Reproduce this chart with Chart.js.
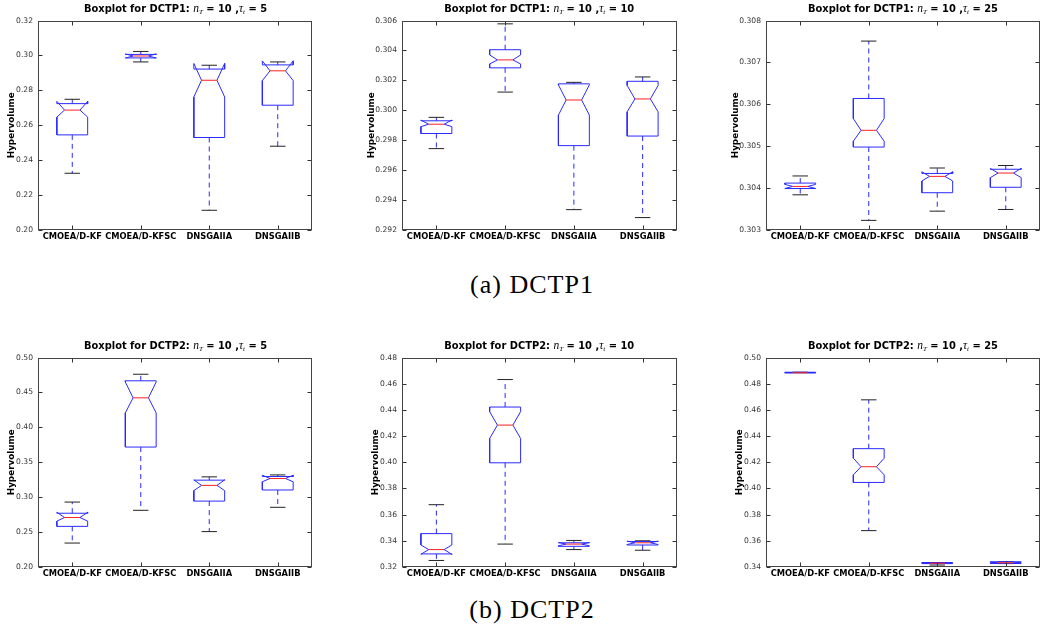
<!DOCTYPE html>
<html>
<head>
<meta charset="utf-8">
<script src="https://cdn.jsdelivr.net/npm/chart.js@4.4.1/dist/chart.umd.min.js"></script>
<style>
  html, body { margin: 0; padding: 0; background: #fff; }
  body { width: 1045px; height: 639px; position: relative; overflow: hidden; font-family: "DejaVu Sans", sans-serif; }
  canvas { position: absolute; }
  .ttl { position: absolute; white-space: nowrap; font-weight: bold; font-size: 9.9px; color: #000; transform: translate(-50%, -50%); }
  .ttl i { font-family: "Liberation Serif", serif; font-weight: normal; font-size: 11.5px; }
  .ttl sub { font-size: 7px; vertical-align: -2px; line-height: 0; }
  .cap { position: absolute; white-space: nowrap; font-family: "Liberation Serif", serif; font-size: 26px; letter-spacing: 1px; color: #000; transform: translate(-50%, -50%); }
</style>
</head>
<body>
<div class="cap" style="left:532px; top:285px">(a) DCTP1</div>
<div class="cap" style="left:532px; top:610px">(b) DCTP2</div>
<script>
const categories = ['CMOEA/D-KF', 'CMOEA/D-KFSC', 'DNSGAIIA', 'DNSGAIIB'];

// DCTP1, tau_t = 5
const a5Lo  = [0.2325, 0.2963, 0.2113, 0.2480];
const a5Q1  = [0.2545, 0.2986, 0.2530, 0.2715];
const a5NLo = [0.2647, 0.2985, 0.2762, 0.2856];
const a5Med = [0.2687, 0.2997, 0.2858, 0.2912];
const a5NHi = [0.2737, 0.3009, 0.2954, 0.2969];
const a5Q3  = [0.2724, 0.3006, 0.2922, 0.2946];
const a5Hi  = [0.2749, 0.3023, 0.2944, 0.2963];
const a5Ticks = [0.20, 0.22, 0.24, 0.26, 0.28, 0.30, 0.32];

// DCTP1, tau_t = 10
const a10Lo  = [0.29744, 0.30122, 0.29336, 0.29283];
const a10Q1  = [0.29845, 0.30284, 0.29764, 0.29828];
const a10NLo = [0.29891, 0.30310, 0.29968, 0.29990];
const a10Med = [0.29907, 0.30337, 0.30069, 0.30076];
const a10NHi = [0.29935, 0.30370, 0.30170, 0.30166];
const a10Q3  = [0.29930, 0.30405, 0.30177, 0.30194];
const a10Hi  = [0.29953, 0.30578, 0.30187, 0.30223];
const a10Ticks = [0.292, 0.294, 0.296, 0.298, 0.300, 0.302, 0.304, 0.306];

// DCTP1, tau_t = 25
const a25Lo  = [0.30384, 0.30323, 0.30345, 0.30349];
const a25Q1  = [0.30399, 0.30498, 0.30389, 0.30402];
const a25NLo = [0.30399, 0.30512, 0.30417, 0.30425];
const a25Med = [0.30404, 0.30538, 0.30428, 0.30436];
const a25NHi = [0.30409, 0.30566, 0.30439, 0.30447];
const a25Q3  = [0.30412, 0.30614, 0.30435, 0.30445];
const a25Hi  = [0.30429, 0.30751, 0.30448, 0.30454];
const a25Ticks = [0.303, 0.304, 0.305, 0.306, 0.307, 0.308];

// DCTP2, tau_t = 5
const b5Lo  = [0.2343, 0.2812, 0.2507, 0.2855];
const b5Q1  = [0.2582, 0.3718, 0.2944, 0.3103];
const b5NLo = [0.2657, 0.4207, 0.3094, 0.3221];
const b5Med = [0.2709, 0.4423, 0.3169, 0.3268];
const b5NHi = [0.2784, 0.4650, 0.3248, 0.3315];
const b5Q3  = [0.2770, 0.4667, 0.3244, 0.3296];
const b5Hi  = [0.2930, 0.4761, 0.3291, 0.3319];
const b5Ticks = [0.20, 0.25, 0.30, 0.35, 0.40, 0.45, 0.50];

// DCTP2, tau_t = 10
const b10Lo  = [0.3250, 0.3375, 0.3333, 0.3328];
const b10Q1  = [0.3300, 0.3996, 0.3358, 0.3368];
const b10NLo = [0.3297, 0.4182, 0.3362, 0.3372];
const b10Med = [0.3333, 0.4284, 0.3375, 0.3385];
const b10NHi = [0.3368, 0.4387, 0.3387, 0.3398];
const b10Q3  = [0.3455, 0.4422, 0.3385, 0.3395];
const b10Hi  = [0.3676, 0.4632, 0.3403, 0.3400];
const b10Ticks = [0.32, 0.34, 0.36, 0.38, 0.40, 0.42, 0.44, 0.46, 0.48];

// DCTP2, tau_t = 25
const b25Lo  = [0.4884, 0.3678, 0.3415, 0.3426];
const b25Q1  = [0.4884, 0.4046, 0.3426, 0.3427];
const b25NLo = [0.4883, 0.4104, 0.3427, 0.3428];
const b25Med = [0.4884, 0.4166, 0.3429, 0.3432];
const b25NHi = [0.4886, 0.4231, 0.3432, 0.3436];
const b25Q3  = [0.4888, 0.4304, 0.3434, 0.3440];
const b25Hi  = [0.4888, 0.4677, 0.3434, 0.3440];
const b25Ticks = [0.34, 0.36, 0.38, 0.40, 0.42, 0.44, 0.46, 0.48, 0.50];

// box geometry in x-axis units (categories sit at 1..4)
const BOX_HALF = 0.225;
const NOTCH_HALF = 0.1125;

const panels = [
  { prob: 'DCTP1', tau: 5,  stats: [a5Lo, a5Q1, a5NLo, a5Med, a5NHi, a5Q3, a5Hi],  ticks: a5Ticks,  dp: 2, left: 38.3,  top: 17.3,  w: 274.4, h: 212.7, labelGap: 26.6 },
  { prob: 'DCTP1', tau: 10, stats: [a10Lo, a10Q1, a10NLo, a10Med, a10NHi, a10Q3, a10Hi], ticks: a10Ticks, dp: 3, left: 401.7, top: 17.3,  w: 275.0, h: 212.7, labelGap: 30 },
  { prob: 'DCTP1', tau: 25, stats: [a25Lo, a25Q1, a25NLo, a25Med, a25NHi, a25Q3, a25Hi], ticks: a25Ticks, dp: 3, left: 766.0, top: 17.3,  w: 274.0, h: 212.7, labelGap: 30 },
  { prob: 'DCTP2', tau: 5,  stats: [b5Lo, b5Q1, b5NLo, b5Med, b5NHi, b5Q3, b5Hi],  ticks: b5Ticks,  dp: 2, left: 38.3,  top: 354.3, w: 274.4, h: 213.0, labelGap: 26.3 },
  { prob: 'DCTP2', tau: 10, stats: [b10Lo, b10Q1, b10NLo, b10Med, b10NHi, b10Q3, b10Hi], ticks: b10Ticks, dp: 2, left: 401.7, top: 354.3, w: 275.0, h: 213.0, labelGap: 26 },
  { prob: 'DCTP2', tau: 25, stats: [b25Lo, b25Q1, b25NLo, b25Med, b25NHi, b25Q3, b25Hi], ticks: b25Ticks, dp: 2, left: 766.0, top: 354.3, w: 274.0, h: 213.0, labelGap: 26 }
];

const Y_AXIS_W = 50, X_AXIS_H = 18, PAD_TOP = 6, PAD_RIGHT = 6;
const BLUE = '#2a2aff', RED = '#ff2020', CAP = '#222';

function seg(points, color, dash) {
  return {
    data: points.map(p => ({ x: p[0], y: p[1] })),
    showLine: true,
    borderColor: color,
    borderWidth: 1,
    borderDash: dash || [],
    pointRadius: 0,
    fill: false,
    tension: 0
  };
}

// notched boxplot made of plain line datasets; first dataset is drawn on top
function boxDatasets(stats) {
  const [lo, q1, nlo, med, nhi, q3, hi] = stats;
  const medians = [], caps = [], outlines = [], whiskers = [];
  categories.forEach((c, i) => {
    const x = i + 1, l = x - BOX_HALF, r = x + BOX_HALF;
    medians.push(seg([[x - NOTCH_HALF, med[i]], [x + NOTCH_HALF, med[i]]], RED));
    outlines.push(seg([
      [l, q1[i]], [r, q1[i]], [r, nlo[i]], [x + NOTCH_HALF, med[i]], [r, nhi[i]], [r, q3[i]],
      [l, q3[i]], [l, nhi[i]], [x - NOTCH_HALF, med[i]], [l, nlo[i]], [l, q1[i]]
    ], BLUE));
    caps.push(seg([[x - NOTCH_HALF, lo[i]], [x + NOTCH_HALF, lo[i]]], CAP));
    caps.push(seg([[x - NOTCH_HALF, hi[i]], [x + NOTCH_HALF, hi[i]]], CAP));
    whiskers.push(seg([[x, q1[i]], [x, lo[i]]], BLUE, [5, 4]));
    whiskers.push(seg([[x, q3[i]], [x, hi[i]]], BLUE, [5, 4]));
  });
  return [...medians, ...outlines, ...caps, ...whiskers];
}

// axes frame with inward tick marks on all four sides
const framePlugin = {
  id: 'frame',
  afterDraw(chart) {
    const { ctx, chartArea: a, scales: { x, y } } = chart;
    const L = Math.round(a.left) + 0.5, R = Math.round(a.right) - 0.5;
    const T = Math.round(a.top) + 0.5, B = Math.round(a.bottom) - 0.5;
    ctx.save();
    ctx.strokeStyle = '#333';
    ctx.lineWidth = 1;
    ctx.beginPath();
    y.ticks.forEach(t => {
      const py = Math.round(y.getPixelForValue(t.value)) + 0.5;
      ctx.moveTo(L, py); ctx.lineTo(L + 4, py);
      ctx.moveTo(R, py); ctx.lineTo(R - 4, py);
    });
    x.ticks.forEach(t => {
      const px = Math.round(x.getPixelForValue(t.value)) + 0.5;
      ctx.moveTo(px, B); ctx.lineTo(px, B - 4);
      ctx.moveTo(px, T); ctx.lineTo(px, T + 4);
    });
    ctx.stroke();
    ctx.strokeStyle = '#444';
    ctx.strokeRect(L, T, R - L, B - T);
    ctx.restore();
  }
};

panels.forEach(p => {
  const canvas = document.createElement('canvas');
  canvas.width = Math.round(p.w) + Y_AXIS_W + PAD_RIGHT;
  canvas.height = Math.round(p.h) + PAD_TOP + X_AXIS_H;
  canvas.style.left = (Math.round(p.left) - Y_AXIS_W) + 'px';
  canvas.style.top = (Math.round(p.top) - PAD_TOP) + 'px';
  document.body.appendChild(canvas);

  const ttl = document.createElement('div');
  ttl.className = 'ttl';
  ttl.style.left = (p.left + p.w / 2) + 'px';
  ttl.style.top = (p.top - 9.7) + 'px';
  ttl.innerHTML = 'Boxplot for ' + p.prob + ': <i>n<sub>T</sub></i> = 10 ,<i>τ<sub>t</sub></i> = ' + p.tau;
  document.body.appendChild(ttl);

  new Chart(canvas, {
    type: 'scatter',
    data: { datasets: boxDatasets(p.stats) },
    options: {
      responsive: false,
      animation: false,
      events: [],
      layout: { padding: { top: PAD_TOP, right: PAD_RIGHT, left: 0, bottom: 0 } },
      plugins: { legend: { display: false }, tooltip: { enabled: false } },
      scales: {
        x: {
          type: 'linear',
          min: 0.5,
          max: 4.5,
          grid: { display: false, drawTicks: false },
          border: { display: false },
          afterBuildTicks: s => { s.ticks = categories.map((c, i) => ({ value: i + 1 })); },
          afterFit: s => { s.height = X_AXIS_H; },
          ticks: {
            padding: 2,
            maxRotation: 0,
            autoSkip: false,
            color: '#000',
            font: { family: 'DejaVu Sans', size: 8.3, weight: 'bold' },
            callback: v => categories[Math.round(v) - 1]
          }
        },
        y: {
          type: 'linear',
          min: p.ticks[0],
          max: p.ticks[p.ticks.length - 1],
          grid: { display: false, drawTicks: false },
          border: { display: false },
          afterBuildTicks: s => { s.ticks = p.ticks.map(v => ({ value: v })); },
          afterFit: s => { s.width = Y_AXIS_W; },
          ticks: {
            padding: 5,
            color: '#333',
            font: { family: 'DejaVu Sans', size: 7.6 },
            callback: v => v.toFixed(p.dp)
          },
          title: {
            display: true,
            text: 'Hypervolume',
            color: '#000',
            font: { family: 'DejaVu Sans', size: 8.8, weight: 'bold' },
            padding: { top: Y_AXIS_W - p.labelGap - 5.3, bottom: 0 }
          }
        }
      }
    },
    plugins: [framePlugin]
  });
});
</script>
</body>
</html>
